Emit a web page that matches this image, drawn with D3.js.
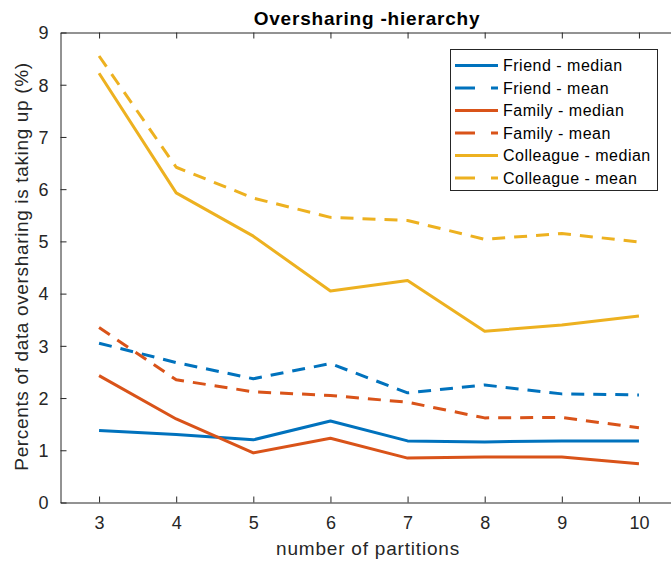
<!DOCTYPE html>
<html>
<head>
<meta charset="utf-8">
<script src="https://cdn.jsdelivr.net/npm/d3@7"></script>
<style>
  html, body { margin: 0; padding: 0; background: #fff; }
  svg { display: block; font-family: "Liberation Sans", Arial, sans-serif; }
</style>
</head>
<body>
<svg id="chart" width="671" height="562"></svg>
<script>
// Partition counts on the x axis
const partitions = [3, 4, 5, 6, 7, 8, 9, 10];

// Percent of data oversharing, per relationship group
const friendMedian    = [1.38, 1.30, 1.20, 1.56, 1.18, 1.16, 1.18, 1.18];
const friendMean      = [3.05, 2.68, 2.37, 2.66, 2.10, 2.25, 2.08, 2.06];
const familyMedian    = [2.43, 1.60, 0.95, 1.23, 0.85, 0.87, 0.87, 0.74];
const familyMean      = [3.35, 2.35, 2.12, 2.05, 1.92, 1.62, 1.63, 1.43];
const colleagueMedian = [8.22, 5.93, 5.10, 4.05, 4.25, 3.28, 3.40, 3.57];
const colleagueMean   = [8.55, 6.42, 5.83, 5.46, 5.40, 5.04, 5.15, 4.99];

const yTicks = [0, 1, 2, 3, 4, 5, 6, 7, 8, 9];
const seriesNames = ["Friend - median", "Friend - mean", "Family - median",
                     "Family - mean", "Colleague - median", "Colleague - mean"];

const blue = "#0072BD", orange = "#D95319", yellow = "#EDB120";
const series = [
  { name: seriesNames[0], values: friendMedian,    color: blue,   dashed: false },
  { name: seriesNames[1], values: friendMean,      color: blue,   dashed: true  },
  { name: seriesNames[2], values: familyMedian,    color: orange, dashed: false },
  { name: seriesNames[3], values: familyMean,      color: orange, dashed: true  },
  { name: seriesNames[4], values: colleagueMedian, color: yellow, dashed: false },
  { name: seriesNames[5], values: colleagueMean,   color: yellow, dashed: true  }
];

const svg = d3.select("#chart");
const axisColor = "#262626";
const plotLeft = 60.5, plotRight = 677.5, plotTop = 32.5, plotBottom = 502.5;

const x = d3.scaleLinear().domain([2.5, 10.5]).range([plotLeft, plotRight]);
const y = d3.scaleLinear().domain([0, 9]).range([plotBottom, plotTop]);

// Bottom axis with inward ticks
const xAxis = svg.append("g")
  .attr("transform", `translate(0,${plotBottom})`)
  .call(d3.axisBottom(x).tickValues(partitions).tickSizeInner(-6).tickSizeOuter(0).tickPadding(14));
// Top axis (box)
const xAxisTop = svg.append("g")
  .attr("transform", `translate(0,${plotTop})`)
  .call(d3.axisTop(x).tickValues(partitions).tickSizeInner(-6).tickSizeOuter(0).tickFormat(""));
// Left axis with inward ticks
const yAxis = svg.append("g")
  .attr("transform", `translate(${plotLeft},0)`)
  .call(d3.axisLeft(y).tickValues(yTicks).tickSizeInner(-6).tickSizeOuter(0).tickPadding(12));

[xAxis, xAxisTop, yAxis].forEach(g => {
  g.select(".domain").attr("stroke", axisColor).attr("stroke-width", 1);
  g.selectAll(".tick line").attr("stroke", axisColor).attr("stroke-width", 1);
  g.selectAll(".tick text").attr("fill", axisColor)
    .style("font-size", "18px").style("font-family", "Liberation Sans, Arial, sans-serif");
});
yAxis.selectAll(".tick text").attr("dy", "0.35em");

// Data lines
const line = d3.line().x((d, i) => x(partitions[i])).y(d => y(d));
const plot = svg.append("g");
series.forEach(s => {
  plot.append("path")
    .datum(s.values)
    .attr("d", line)
    .attr("fill", "none")
    .attr("stroke", s.color)
    .attr("stroke-width", 3)
    .attr("stroke-linejoin", "round")
    .attr("stroke-dasharray", s.dashed ? "13,9" : null);
});

// Title
svg.append("text")
  .attr("x", 367).attr("y", 25)
  .attr("text-anchor", "middle")
  .attr("fill", "#000")
  .style("font-size", "19px").style("font-weight", "bold")
  .style("letter-spacing", "0.8px")
  .text("Oversharing -hierarchy");

// Axis labels
svg.append("text")
  .attr("x", 368).attr("y", 555)
  .attr("text-anchor", "middle")
  .attr("fill", axisColor)
  .style("font-size", "19px")
  .style("letter-spacing", "0.8px")
  .text("number of partitions");

svg.append("text")
  .attr("transform", `translate(28,${(plotTop + plotBottom) / 2 - 1}) rotate(-90)`)
  .attr("text-anchor", "middle")
  .attr("fill", axisColor)
  .style("font-size", "19px")
  .style("letter-spacing", "0.65px")
  .text("Percents of data oversharing is taking up (%)");

// Legend
const legend = svg.append("g");
legend.append("rect")
  .attr("x", 450.5).attr("y", 49.5).attr("width", 207).attr("height", 141)
  .attr("fill", "#fff").attr("stroke", axisColor).attr("stroke-width", 1);
series.forEach((s, i) => {
  const ry = 65.5 + i * 22.5;
  legend.append("line")
    .attr("x1", 455).attr("x2", 498).attr("y1", ry).attr("y2", ry)
    .attr("stroke", s.color).attr("stroke-width", 3)
    .attr("stroke-dasharray", s.dashed ? "20,16,7" : null);
  legend.append("text")
    .attr("x", 503).attr("y", ry).attr("dy", "0.35em")
    .attr("fill", "#000")
    .style("font-size", "16px")
    .style("letter-spacing", "0.5px")
    .text(s.name);
});
</script>
</body>
</html>
